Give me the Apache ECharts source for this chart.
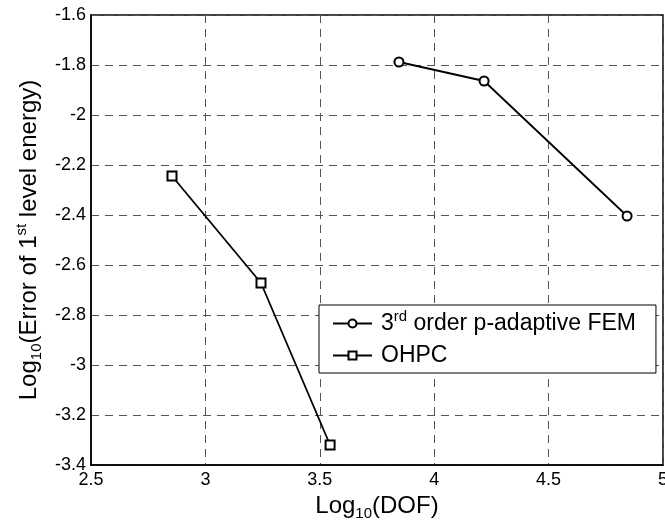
<!DOCTYPE html>
<html>
<head>
<meta charset="utf-8">
<script src="https://cdn.jsdelivr.net/npm/echarts@6/dist/echarts.min.js"></script>
<style>
  html, body { margin: 0; padding: 0; background: #fff; }
  #chart { width: 665px; height: 523px; }
</style>
</head>
<body>
<div id="chart"></div>
<script>
// log10(DOF) / log10(error) pairs
const femName = '3rd order p-adaptive FEM';
const femX = [3.846, 4.218, 4.843];
const femY = [-1.788, -1.864, -2.404];

const ohpcName = 'OHPC';
const ohpcX = [2.854, 3.243, 3.545];
const ohpcY = [-2.244, -2.672, -3.32];

const font = 'Liberation Sans, Arial, sans-serif';

function richSet(size, small, lh) {
  return {
    n: { fontSize: size, lineHeight: lh, color: '#000', fontFamily: font },
    s: { fontSize: small, lineHeight: small, verticalAlign: 'top', color: '#000', fontFamily: font },
    b: { fontSize: small, lineHeight: small, verticalAlign: 'bottom', color: '#000', fontFamily: font }
  };
}

function pairs(xs, ys) {
  return xs.map((x, i) => [x, ys[i]]);
}

const gridLine = {
  show: true,
  lineStyle: { color: '#555', width: 1, type: [8, 6] }
};

let myChart = echarts.init(document.getElementById('chart'));
myChart.setOption({
  animation: false,
  backgroundColor: '#fff',
  grid: {
    left: 91,
    right: 2,
    top: 15,
    bottom: 58,
    outerBoundsMode: 'none',
    show: true,
    borderColor: '#000',
    borderWidth: 1.5
  },
  legend: {
    orient: 'vertical',
    left: 319,
    top: 305,
    padding: [4, 20, 6, 13],
    itemGap: 9,
    itemWidth: 39,
    itemHeight: 10,
    backgroundColor: '#fff',
    borderColor: '#000',
    borderWidth: 1,
    borderRadius: 0,
    data: [femName, ohpcName],
    formatter: function (name) {
      if (name === femName) {
        return '{n|3}{s|rd}{n| order p-adaptive FEM}';
      }
      return '{n|' + name + '}';
    },
    textStyle: { rich: richSet(23, 15, 29), padding: [0, 0, 0, 4] }
  },
  xAxis: {
    type: 'value',
    min: 2.5,
    max: 5,
    interval: 0.5,
    name: '{n|Log}{b|10}{n|(DOF)}',
    nameLocation: 'middle',
    nameGap: 9,
    nameTextStyle: { rich: richSet(24, 15, 30) },
    axisLine: { show: true, lineStyle: { color: '#000', width: 1.5 } },
    axisTick: { show: false },
    axisLabel: { color: '#000', fontSize: 18, fontFamily: font, margin: 6 },
    splitLine: gridLine
  },
  yAxis: {
    type: 'value',
    min: -3.4,
    max: -1.6,
    interval: 0.2,
    name: '{n|Log}{b|10}{n|(Error of 1}{s|st}{n| level energy)}',
    nameLocation: 'middle',
    nameGap: 46,
    nameTextStyle: { rich: richSet(24, 15, 30) },
    axisLine: { show: true, lineStyle: { color: '#000', width: 1.5 } },
    axisTick: { show: false },
    axisLabel: { color: '#000', fontSize: 18, fontFamily: font, margin: 5 },
    splitLine: gridLine
  },
  series: [
    {
      name: femName,
      type: 'line',
      symbol: 'emptyCircle',
      symbolSize: 9,
      itemStyle: { color: '#000', borderWidth: 1.8 },
      lineStyle: { color: '#000', width: 1.8 },
      data: pairs(femX, femY)
    },
    {
      name: ohpcName,
      type: 'line',
      symbol: 'emptyRect',
      symbolSize: 9,
      itemStyle: { color: '#000', borderWidth: 1.8 },
      lineStyle: { color: '#000', width: 1.8 },
      data: pairs(ohpcX, ohpcY)
    }
  ]
});
</script>
</body>
</html>
